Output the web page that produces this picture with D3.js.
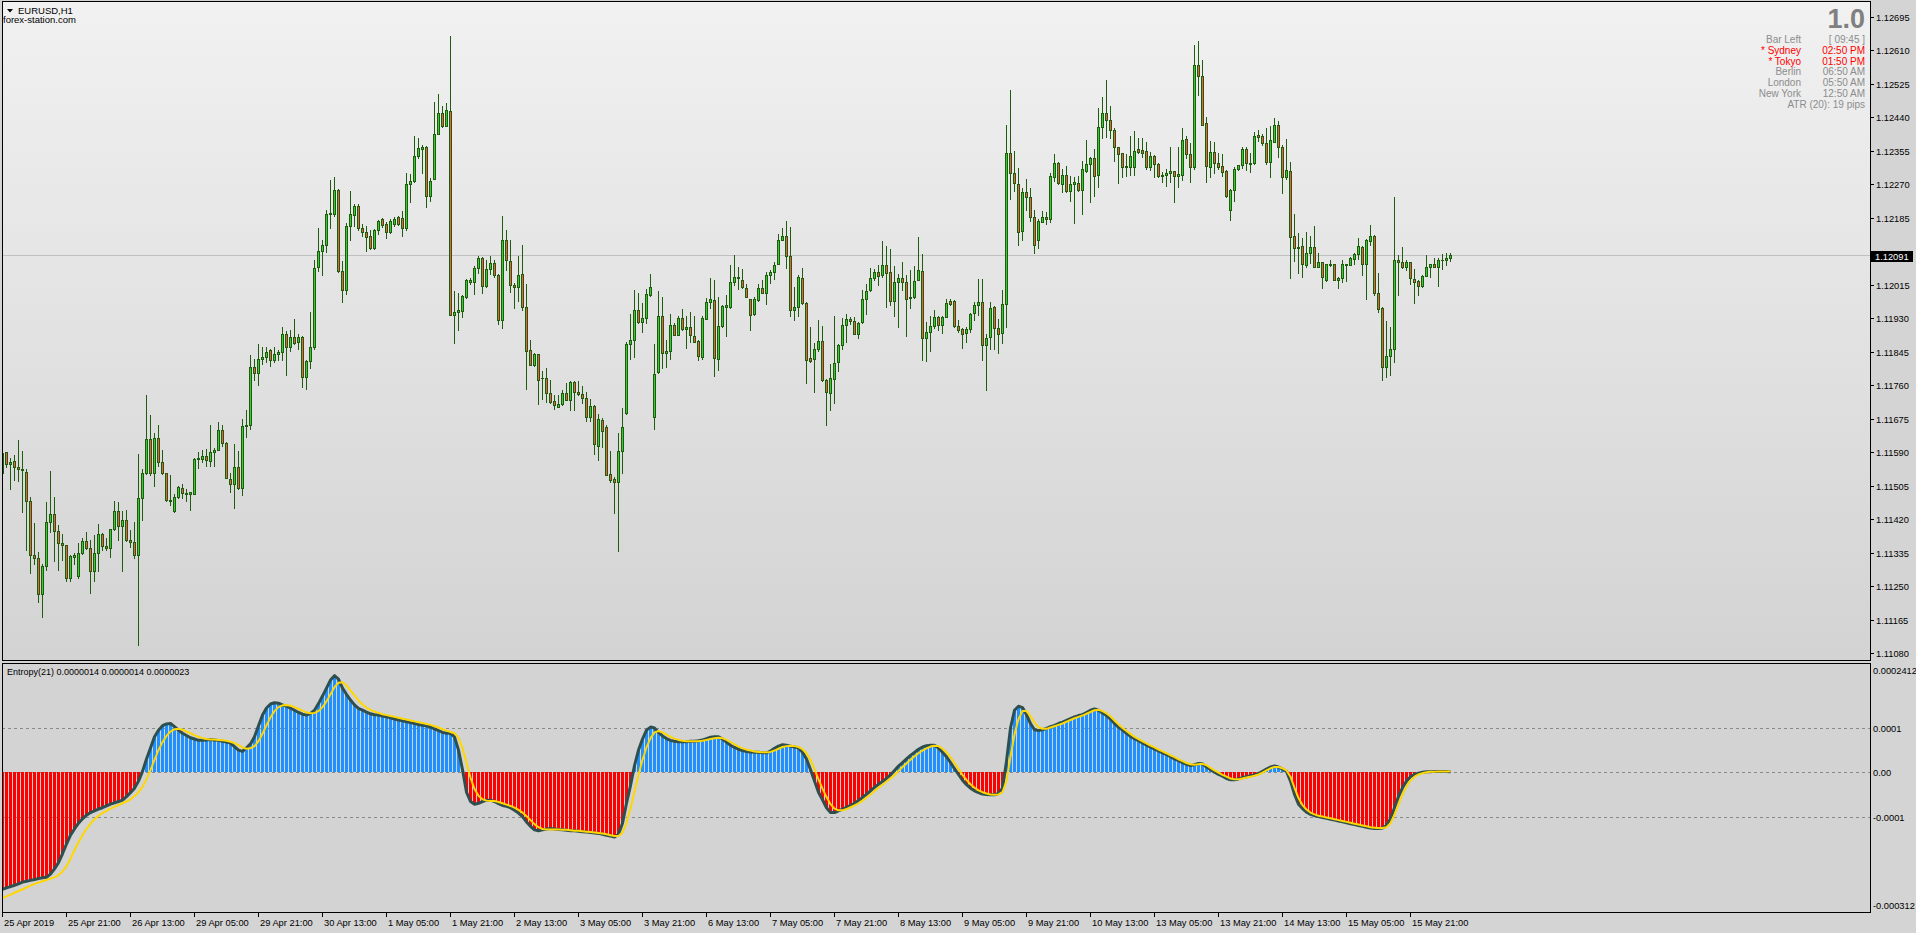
<!DOCTYPE html>
<html>
<head>
<meta charset="utf-8">
<script src="https://cdn.jsdelivr.net/npm/d3@7"></script>
<style>
html, body { margin: 0; padding: 0; background: #d4d4d4; overflow: hidden; }
svg { display: block; font-family: "Liberation Sans", Arial, sans-serif; }
</style>
</head>
<body>
<svg id="chart" width="1916" height="933"></svg>
<script>
// EURUSD H1, 25 Apr 2019 05:00 .. 16 May 2019 07:00 (363 bars)
var open = [
1.11538,1.11590,1.11560,1.11568,1.11553,1.11547,1.11540,1.11467,1.11330,1.11322,
1.11229,1.11300,1.11412,1.11432,1.11389,1.11359,1.11353,1.11271,1.11324,1.11276,
1.11333,1.11365,1.11347,1.11287,1.11333,1.11382,1.11352,1.11346,1.11394,1.11440,
1.11402,1.11417,1.11367,1.11363,1.11329,1.11474,1.11536,1.11623,1.11536,1.11625,
1.11564,1.11536,1.11469,1.11440,1.11477,1.11500,1.11487,1.11484,1.11485,1.11572,
1.11572,1.11580,1.11568,1.11590,1.11595,1.11645,1.11613,1.11523,1.11508,1.11552,
1.11500,1.11656,1.11658,1.11807,1.11791,1.11826,1.11831,1.11849,1.11824,1.11839,
1.11844,1.11891,1.11857,1.11882,1.11869,1.11882,1.11782,1.11821,1.11856,1.12059,
1.12100,1.12115,1.12195,1.12195,1.12255,1.12050,1.12002,1.12164,1.12193,1.12215,
1.12160,1.12148,1.12140,1.12108,1.12155,1.12181,1.12170,1.12148,1.12170,1.12186,
1.12185,1.12160,1.12271,1.12278,1.12341,1.12361,1.12365,1.12240,1.12284,1.12398,
1.12450,1.12418,1.12456,1.11939,1.11945,1.11948,1.11985,1.12022,1.12022,1.12058,
1.12082,1.12011,1.12056,1.12071,1.12041,1.11925,1.12130,1.12076,1.12015,1.12009,
1.12043,1.11959,1.11850,1.11812,1.11838,1.11779,1.11778,1.11741,1.11719,1.11704,
1.11713,1.11741,1.11723,1.11768,1.11744,1.11738,1.11728,1.11679,1.11708,1.11605,
1.11672,1.11654,1.11535,1.11521,1.11514,1.11593,1.11690,1.11865,1.11876,1.11952,
1.11920,1.11931,1.11990,1.11679,1.11793,1.11937,1.11843,1.11847,1.11914,1.11888,
1.11931,1.11902,1.11909,1.11886,1.11871,1.11832,1.11929,1.11972,1.11977,1.11826,
1.11911,1.11959,1.11959,1.12023,1.12036,1.12028,1.12008,1.11978,1.11940,1.11977,
1.12008,1.11995,1.12039,1.12047,1.12069,1.12130,1.12140,1.12087,1.11952,1.11959,
1.12033,1.11970,1.11829,1.11827,1.11852,1.11873,1.11774,1.11741,1.11777,1.11819,
1.11861,1.11912,1.11929,1.11923,1.11889,1.11920,1.11980,1.12001,1.12032,1.12048,
1.12039,1.12065,1.12048,1.11974,1.12022,1.12032,1.12023,1.11985,1.11984,1.12027,
1.12051,1.11880,1.11896,1.11911,1.11933,1.11914,1.11933,1.11975,1.11975,1.11911,
1.11903,1.11893,1.11904,1.11944,1.11963,1.11972,1.11863,1.11883,1.11958,1.11906,
1.11893,1.11967,1.12349,1.12298,1.12272,1.12151,1.12250,1.12239,1.12186,1.12130,
1.12175,1.12186,1.12183,1.12289,1.12323,1.12272,1.12293,1.12254,1.12270,1.12274,
1.12255,1.12305,1.12321,1.12336,1.12294,1.12416,1.12450,1.12433,1.12408,1.12364,
1.12349,1.12313,1.12315,1.12315,1.12361,1.12357,1.12354,1.12313,1.12342,1.12321,
1.12292,1.12295,1.12298,1.12303,1.12292,1.12294,1.12384,1.12346,1.12313,1.12573,
1.12546,1.12425,1.12315,1.12351,1.12323,1.12316,1.12304,1.12206,1.12255,1.12308,
1.12319,1.12360,1.12325,1.12323,1.12396,1.12393,1.12375,1.12327,1.12378,1.12422,
1.12364,1.12289,1.12304,1.12139,1.12111,1.12113,1.12065,1.12095,1.12111,1.12061,
1.12072,1.12028,1.12067,1.12067,1.12028,1.12031,1.12067,1.12066,1.12081,1.12092,
1.12112,1.12067,1.12127,1.12139,1.11995,1.11956,1.11805,1.11834,1.11853,1.12079,
1.12072,1.12059,1.12072,1.12029,1.12024,1.12012,1.12038,1.12059,1.12067,1.12061,
1.12079,1.12077,1.12082];

var high = [
1.11603,1.11590,1.11576,1.11582,1.11621,1.11593,1.11548,1.11477,1.11409,1.11337,
1.11305,1.11463,1.11543,1.11475,1.11405,1.11382,1.11355,1.11330,1.11335,1.11359,
1.11371,1.11386,1.11367,1.11380,1.11408,1.11385,1.11371,1.11395,1.11467,1.11463,
1.11441,1.11443,1.11392,1.11412,1.11585,1.11546,1.11735,1.11685,1.11638,1.11658,
1.11596,1.11537,1.11532,1.11485,1.11505,1.11510,1.11497,1.11489,1.11576,1.11591,
1.11595,1.11598,1.11658,1.11601,1.11666,1.11658,1.11616,1.11536,1.11611,1.11592,
1.11673,1.11698,1.11837,1.11827,1.11864,1.11856,1.11856,1.11852,1.11856,1.11849,
1.11908,1.11897,1.11899,1.11928,1.11889,1.11884,1.11824,1.11946,1.12077,1.12160,
1.12130,1.12205,1.12280,1.12289,1.12257,1.12075,1.12171,1.12253,1.12220,1.12220,
1.12170,1.12165,1.12155,1.12157,1.12180,1.12185,1.12175,1.12182,1.12187,1.12190,
1.12202,1.12299,1.12296,1.12394,1.12388,1.12371,1.12368,1.12285,1.12479,1.12499,
1.12469,1.12476,1.12647,1.11999,1.11994,1.11989,1.12029,1.12032,1.12062,1.12088,
1.12085,1.12079,1.12087,1.12077,1.12043,1.12189,1.12155,1.12130,1.12020,1.12089,
1.12115,1.12016,1.11876,1.11842,1.11839,1.11795,1.11804,1.11774,1.11736,1.11734,
1.11748,1.11765,1.11770,1.11771,1.11771,1.11757,1.11744,1.11726,1.11710,1.11688,
1.11676,1.11658,1.11593,1.11528,1.11639,1.11703,1.11870,1.11942,1.12003,1.11994,
1.11970,1.12005,1.12043,1.11865,1.11998,1.11984,1.11874,1.11942,1.11917,1.11935,
1.11953,1.11937,1.11946,1.11935,1.11874,1.11937,1.11982,1.12031,1.12026,1.11984,
1.11963,1.11990,1.12064,1.12090,1.12060,1.12056,1.12018,1.11980,1.11984,1.12018,
1.12028,1.12047,1.12052,1.12073,1.12143,1.12159,1.12176,1.12161,1.12009,1.12040,
1.12058,1.11971,1.11909,1.11867,1.11925,1.11911,1.11776,1.11815,1.11935,1.11865,
1.11931,1.11942,1.11933,1.11933,1.11921,1.12001,1.12018,1.12058,1.12056,1.12064,
1.12125,1.12114,1.12107,1.12062,1.12043,1.12072,1.12039,1.12052,1.12062,1.12136,
1.12092,1.11920,1.11935,1.11950,1.11936,1.11937,1.11978,1.11980,1.11976,1.11925,
1.11905,1.11908,1.11944,1.11972,1.12029,1.12029,1.11891,1.11972,1.11961,1.11927,
1.12001,1.12422,1.12510,1.12355,1.12311,1.12260,1.12283,1.12260,1.12206,1.12183,
1.12202,1.12200,1.12298,1.12346,1.12327,1.12308,1.12316,1.12291,1.12289,1.12291,
1.12329,1.12382,1.12340,1.12361,1.12465,1.12493,1.12535,1.12469,1.12412,1.12366,
1.12350,1.12347,1.12394,1.12405,1.12387,1.12387,1.12378,1.12353,1.12344,1.12323,
1.12302,1.12308,1.12366,1.12305,1.12366,1.12412,1.12393,1.12374,1.12624,1.12634,
1.12586,1.12440,1.12380,1.12378,1.12349,1.12347,1.12306,1.12257,1.12313,1.12319,
1.12366,1.12364,1.12349,1.12404,1.12408,1.12399,1.12412,1.12418,1.12438,1.12432,
1.12371,1.12385,1.12326,1.12196,1.12147,1.12133,1.12148,1.12139,1.12164,1.12095,
1.12073,1.12069,1.12079,1.12069,1.12035,1.12078,1.12068,1.12086,1.12095,1.12133,
1.12114,1.12131,1.12166,1.12141,1.12044,1.11959,1.11923,1.11908,1.12237,1.12090,
1.12110,1.12078,1.12074,1.12056,1.12028,1.12039,1.12090,1.12069,1.12083,1.12083,
1.12093,1.12095,1.12095];

var low = [
1.11497,1.11553,1.11497,1.11520,1.11517,1.11439,1.11342,1.11284,1.11307,1.11210,
1.11172,1.11290,1.11387,1.11314,1.11292,1.11317,1.11264,1.11264,1.11307,1.11271,
1.11332,1.11345,1.11233,1.11264,1.11287,1.11341,1.11341,1.11325,1.11392,1.11367,
1.11287,1.11365,1.11349,1.11320,1.11101,1.11417,1.11535,1.11532,1.11504,1.11556,
1.11535,1.11465,1.11457,1.11439,1.11474,1.11474,1.11467,1.11444,1.11484,1.11551,
1.11565,1.11556,1.11555,1.11555,1.11595,1.11605,1.11524,1.11490,1.11447,1.11497,
1.11482,1.11628,1.11648,1.11773,1.11761,1.11814,1.11819,1.11809,1.11819,1.11824,
1.11824,1.11787,1.11846,1.11864,1.11851,1.11756,1.11750,1.11804,1.11851,1.12050,
1.12040,1.12097,1.12158,1.12190,1.12048,1.11972,1.11991,1.12130,1.12165,1.12155,
1.12140,1.12100,1.12105,1.12105,1.12145,1.12163,1.12135,1.12147,1.12165,1.12167,
1.12138,1.12155,1.12225,1.12275,1.12336,1.12298,1.12213,1.12228,1.12284,1.12398,
1.12416,1.12418,1.11939,1.11867,1.11901,1.11932,1.11981,1.12017,1.11991,1.12045,
1.11994,1.12009,1.12043,1.12035,1.11915,1.11906,1.12052,1.11997,1.11957,1.11975,
1.11952,1.11750,1.11811,1.11810,1.11713,1.11725,1.11717,1.11716,1.11700,1.11704,
1.11710,1.11723,1.11696,1.11696,1.11734,1.11715,1.11668,1.11668,1.11586,1.11571,
1.11603,1.11532,1.11514,1.11435,1.11340,1.11537,1.11686,1.11827,1.11831,1.11918,
1.11895,1.11918,1.11986,1.11649,1.11791,1.11804,1.11806,1.11826,1.11887,1.11887,
1.11901,1.11854,1.11870,1.11870,1.11825,1.11827,1.11928,1.11956,1.11783,1.11798,
1.11909,1.11885,1.11957,1.12014,1.12004,1.12007,1.11984,1.11899,1.11939,1.11975,
1.11995,1.11965,1.12020,1.12030,1.12067,1.12128,1.12058,1.11935,1.11926,1.11935,
1.11967,1.11765,1.11819,1.11743,1.11848,1.11770,1.11660,1.11696,1.11715,1.11796,
1.11853,1.11870,1.11916,1.11889,1.11880,1.11919,1.11942,1.11999,1.12028,1.12014,
1.12036,1.11959,1.11963,1.11935,1.11908,1.12001,1.11885,1.11957,1.11981,1.12026,
1.11823,1.11821,1.11848,1.11905,1.11899,1.11892,1.11932,1.11963,1.11908,1.11895,
1.11854,1.11870,1.11895,1.11925,1.11938,1.11823,1.11749,1.11853,1.11853,1.11842,
1.11866,1.11908,1.12234,1.12254,1.12116,1.12128,1.12205,1.12178,1.12096,1.12109,
1.12174,1.12169,1.12175,1.12279,1.12271,1.12251,1.12251,1.12228,1.12172,1.12254,
1.12196,1.12302,1.12226,1.12241,1.12264,1.12389,1.12391,1.12387,1.12330,1.12274,
1.12289,1.12292,1.12294,1.12294,1.12350,1.12340,1.12308,1.12306,1.12289,1.12289,
1.12277,1.12266,1.12277,1.12226,1.12264,1.12281,1.12336,1.12277,1.12310,1.12497,
1.12421,1.12277,1.12289,1.12299,1.12310,1.12291,1.12238,1.12179,1.12228,1.12306,
1.12312,1.12306,1.12302,1.12322,1.12381,1.12370,1.12321,1.12289,1.12377,1.12340,
1.12249,1.12283,1.12033,1.12076,1.12044,1.12035,1.12061,1.12071,1.12060,1.12059,
1.12007,1.12025,1.12063,1.12027,1.12006,1.12023,1.12025,1.12065,1.12069,1.12080,
1.12041,1.11978,1.12117,1.11989,1.11945,1.11774,1.11781,1.11787,1.11818,1.11989,
1.12058,1.12052,1.12016,1.11969,1.11990,1.12010,1.12037,1.12035,1.12059,1.12012,
1.12054,1.12065,1.12076];

var close = [
1.11588,1.11560,1.11564,1.11552,1.11547,1.11545,1.11467,1.11330,1.11320,1.11229,
1.11302,1.11412,1.11432,1.11389,1.11359,1.11353,1.11271,1.11326,1.11330,1.11333,
1.11365,1.11347,1.11287,1.11333,1.11383,1.11352,1.11346,1.11394,1.11440,1.11402,
1.11417,1.11367,1.11363,1.11329,1.11474,1.11536,1.11623,1.11536,1.11625,1.11564,
1.11536,1.11469,1.11467,1.11477,1.11502,1.11487,1.11484,1.11488,1.11572,1.11576,
1.11580,1.11570,1.11590,1.11595,1.11645,1.11613,1.11525,1.11508,1.11552,1.11499,
1.11656,1.11658,1.11807,1.11791,1.11826,1.11831,1.11844,1.11824,1.11839,1.11844,
1.11891,1.11857,1.11882,1.11867,1.11882,1.11782,1.11821,1.11856,1.12057,1.12100,
1.12115,1.12195,1.12197,1.12255,1.12050,1.12002,1.12164,1.12195,1.12215,1.12160,
1.12148,1.12136,1.12108,1.12155,1.12178,1.12168,1.12148,1.12177,1.12183,1.12170,
1.12160,1.12271,1.12278,1.12341,1.12363,1.12365,1.12240,1.12278,1.12398,1.12450,
1.12418,1.12458,1.11939,1.11947,1.11950,1.11986,1.12028,1.12028,1.12058,1.12082,
1.12011,1.12056,1.12071,1.12041,1.11926,1.12130,1.12079,1.12015,1.12009,1.12041,
1.11959,1.11847,1.11812,1.11840,1.11774,1.11778,1.11741,1.11717,1.11710,1.11713,
1.11741,1.11723,1.11768,1.11743,1.11737,1.11728,1.11679,1.11707,1.11611,1.11674,
1.11644,1.11533,1.11520,1.11514,1.11593,1.11654,1.11865,1.11876,1.11952,1.11920,
1.11931,1.11992,1.12009,1.11789,1.11937,1.11843,1.11848,1.11914,1.11888,1.11931,
1.11903,1.11909,1.11888,1.11870,1.11834,1.11931,1.11972,1.11980,1.11830,1.11911,
1.11962,1.11963,1.12023,1.12036,1.12031,1.12009,1.11984,1.11939,1.11978,1.12008,
1.11995,1.12041,1.12048,1.12066,1.12130,1.12140,1.12087,1.11952,1.11959,1.12036,
1.11969,1.11825,1.11822,1.11852,1.11873,1.11772,1.11744,1.11778,1.11817,1.11861,
1.11912,1.11929,1.11923,1.11891,1.11919,1.11980,1.11999,1.12032,1.12048,1.12038,
1.12065,1.12046,1.11974,1.12022,1.12032,1.12021,1.11980,1.11982,1.12025,1.12053,
1.11881,1.11896,1.11911,1.11932,1.11914,1.11934,1.11970,1.11967,1.11911,1.11901,
1.11891,1.11904,1.11942,1.11963,1.11972,1.11862,1.11881,1.11957,1.11906,1.11891,
1.11967,1.12349,1.12298,1.12274,1.12150,1.12250,1.12238,1.12188,1.12117,1.12177,
1.12186,1.12181,1.12291,1.12323,1.12274,1.12293,1.12254,1.12271,1.12275,1.12255,
1.12308,1.12321,1.12338,1.12292,1.12416,1.12450,1.12433,1.12408,1.12364,1.12346,
1.12313,1.12316,1.12342,1.12354,1.12351,1.12350,1.12313,1.12342,1.12321,1.12292,
1.12295,1.12299,1.12303,1.12292,1.12296,1.12382,1.12346,1.12315,1.12573,1.12546,
1.12422,1.12317,1.12351,1.12323,1.12313,1.12302,1.12241,1.12255,1.12309,1.12319,
1.12360,1.12323,1.12322,1.12393,1.12391,1.12376,1.12327,1.12382,1.12422,1.12364,
1.12289,1.12306,1.12137,1.12109,1.12109,1.12067,1.12095,1.12111,1.12061,1.12072,
1.12035,1.12067,1.12065,1.12028,1.12031,1.12067,1.12066,1.12082,1.12092,1.12114,
1.12067,1.12128,1.12139,1.11993,1.11953,1.11805,1.11834,1.11853,1.12078,1.12072,
1.12059,1.12072,1.12031,1.12023,1.12012,1.12038,1.12059,1.12067,1.12061,1.12079,
1.12078,1.12082,1.12091];

// Entropy(21) buffers, in units of 0.0001
var entropy = [
-2.64,-2.61,-2.58,-2.55,-2.52,-2.48,-2.46,-2.44,-2.42,-2.40,
-2.38,-2.37,-2.30,-2.18,-2.04,-1.84,-1.62,-1.42,-1.28,-1.15,
-1.05,-0.97,-0.91,-0.87,-0.83,-0.80,-0.76,-0.72,-0.69,-0.66,
-0.63,-0.55,-0.46,-0.36,-0.20,0.02,0.30,0.55,0.80,0.95,
1.05,1.09,1.10,1.03,0.95,0.88,0.83,0.78,0.75,0.72,
0.72,0.73,0.74,0.73,0.72,0.70,0.68,0.66,0.58,0.50,
0.47,0.55,0.64,0.80,1.05,1.29,1.45,1.54,1.57,1.56,
1.52,1.49,1.45,1.40,1.35,1.31,1.29,1.33,1.40,1.55,
1.72,1.90,2.08,2.18,2.10,1.90,1.76,1.63,1.52,1.44,
1.40,1.36,1.32,1.30,1.29,1.27,1.25,1.23,1.20,1.18,
1.16,1.14,1.12,1.10,1.08,1.06,1.05,1.02,0.98,0.94,
0.90,0.88,0.88,0.80,0.50,0.06,-0.45,-0.66,-0.72,-0.70,
-0.66,-0.63,-0.63,-0.66,-0.71,-0.75,-0.77,-0.80,-0.86,-0.92,
-1.00,-1.12,-1.22,-1.30,-1.32,-1.30,-1.28,-1.27,-1.28,-1.29,
-1.30,-1.31,-1.32,-1.32,-1.33,-1.34,-1.35,-1.36,-1.37,-1.38,
-1.40,-1.42,-1.44,-1.46,-1.40,-1.15,-0.70,-0.30,0.15,0.50,
0.75,0.95,1.02,1.00,0.90,0.82,0.76,0.72,0.70,0.69,
0.69,0.69,0.70,0.70,0.71,0.73,0.76,0.79,0.80,0.80,
0.75,0.68,0.61,0.56,0.52,0.49,0.47,0.46,0.45,0.45,
0.44,0.44,0.48,0.54,0.59,0.62,0.61,0.59,0.57,0.55,
0.45,0.30,0.06,-0.20,-0.45,-0.62,-0.80,-0.91,-0.91,-0.87,
-0.83,-0.79,-0.75,-0.70,-0.64,-0.57,-0.50,-0.42,-0.34,-0.27,
-0.21,-0.14,-0.06,0.04,0.14,0.22,0.30,0.38,0.45,0.52,
0.57,0.60,0.61,0.61,0.55,0.45,0.35,0.22,0.08,-0.05,
-0.18,-0.28,-0.36,-0.42,-0.46,-0.49,-0.50,-0.51,-0.51,-0.48,
-0.36,0.25,1.00,1.40,1.49,1.46,1.30,1.10,0.96,0.94,
0.96,0.99,1.03,1.06,1.10,1.13,1.17,1.21,1.25,1.28,
1.30,1.35,1.40,1.43,1.40,1.34,1.28,1.20,1.10,1.02,
0.95,0.88,0.81,0.76,0.71,0.66,0.61,0.57,0.52,0.48,
0.44,0.40,0.35,0.30,0.26,0.22,0.18,0.15,0.17,0.20,
0.19,0.12,0.06,0.00,-0.05,-0.09,-0.14,-0.17,-0.17,-0.15,
-0.12,-0.10,-0.08,-0.06,-0.03,0.02,0.07,0.12,0.14,0.12,
0.07,0.02,-0.20,-0.50,-0.72,-0.82,-0.90,-0.95,-0.98,-1.00,
-1.02,-1.04,-1.06,-1.08,-1.10,-1.12,-1.14,-1.16,-1.18,-1.20,
-1.22,-1.24,-1.26,-1.27,-1.27,-1.26,-1.20,-1.05,-0.80,-0.55,
-0.35,-0.20,-0.10,-0.05,-0.02,0.00,0.01,0.01,0.02,0.02,
0.02,0.02,0.014];

var signal = [
-2.84,-2.80,-2.76,-2.72,-2.68,-2.64,-2.60,-2.56,-2.52,-2.49,
-2.46,-2.43,-2.40,-2.37,-2.32,-2.24,-2.12,-1.95,-1.76,-1.58,
-1.42,-1.28,-1.16,-1.06,-0.98,-0.92,-0.87,-0.82,-0.78,-0.74,
-0.70,-0.66,-0.61,-0.54,-0.45,-0.33,-0.16,0.05,0.28,0.50,
0.68,0.82,0.92,0.97,0.98,0.96,0.92,0.88,0.84,0.80,
0.77,0.75,0.74,0.74,0.73,0.72,0.71,0.69,0.66,0.61,
0.56,0.53,0.54,0.59,0.70,0.87,1.06,1.24,1.38,1.47,
1.51,1.52,1.50,1.47,1.43,1.39,1.35,1.33,1.34,1.38,
1.47,1.60,1.76,1.92,2.02,2.03,1.96,1.85,1.73,1.62,
1.53,1.46,1.41,1.37,1.34,1.31,1.29,1.27,1.25,1.23,
1.21,1.19,1.17,1.15,1.13,1.11,1.09,1.07,1.04,1.01,
0.97,0.94,0.91,0.88,0.78,0.55,0.22,-0.12,-0.38,-0.53,
-0.61,-0.64,-0.65,-0.65,-0.67,-0.70,-0.73,-0.76,-0.80,-0.85,
-0.91,-0.99,-1.08,-1.17,-1.24,-1.28,-1.29,-1.29,-1.29,-1.29,
-1.30,-1.30,-1.31,-1.32,-1.32,-1.33,-1.34,-1.35,-1.36,-1.37,
-1.38,-1.40,-1.42,-1.44,-1.44,-1.36,-1.14,-0.82,-0.44,-0.06,
0.28,0.56,0.77,0.90,0.93,0.90,0.85,0.80,0.76,0.73,
0.71,0.70,0.70,0.70,0.70,0.71,0.73,0.75,0.77,0.78,
0.77,0.73,0.68,0.63,0.58,0.54,0.51,0.49,0.47,0.46,
0.45,0.45,0.46,0.49,0.53,0.57,0.59,0.60,0.59,0.57,
0.52,0.43,0.28,0.07,-0.16,-0.37,-0.56,-0.72,-0.82,-0.86,
-0.86,-0.83,-0.79,-0.75,-0.70,-0.64,-0.57,-0.50,-0.42,-0.35,
-0.28,-0.21,-0.14,-0.06,0.03,0.12,0.20,0.28,0.36,0.43,
0.49,0.54,0.58,0.60,0.59,0.53,0.45,0.34,0.21,0.07,
-0.06,-0.17,-0.27,-0.35,-0.41,-0.45,-0.48,-0.50,-0.51,-0.50,
-0.45,-0.20,0.35,0.85,1.20,1.38,1.38,1.26,1.12,1.02,
0.98,0.98,1.01,1.04,1.07,1.10,1.14,1.18,1.22,1.25,
1.28,1.32,1.36,1.40,1.41,1.38,1.33,1.26,1.17,1.08,
1.00,0.93,0.86,0.80,0.75,0.70,0.65,0.60,0.56,0.51,
0.47,0.43,0.38,0.34,0.29,0.25,0.21,0.18,0.17,0.18,
0.19,0.16,0.10,0.04,-0.01,-0.06,-0.10,-0.14,-0.16,-0.16,
-0.14,-0.12,-0.10,-0.08,-0.05,-0.01,0.04,0.09,0.12,0.12,
0.09,0.04,-0.10,-0.35,-0.58,-0.74,-0.84,-0.91,-0.95,-0.98,
-1.00,-1.02,-1.04,-1.06,-1.08,-1.10,-1.12,-1.14,-1.16,-1.18,
-1.20,-1.22,-1.24,-1.25,-1.26,-1.26,-1.24,-1.15,-0.96,-0.72,
-0.50,-0.32,-0.19,-0.10,-0.05,-0.02,0.00,0.01,0.01,0.02,
0.02,0.02,0.023];

var timeLabels = ["25 Apr 2019","25 Apr 21:00","26 Apr 13:00","29 Apr 05:00","29 Apr 21:00",
  "30 Apr 13:00","1 May 05:00","1 May 21:00","2 May 13:00","3 May 05:00","3 May 21:00",
  "6 May 13:00","7 May 05:00","7 May 21:00","8 May 13:00","9 May 05:00","9 May 21:00",
  "10 May 13:00","13 May 05:00","13 May 21:00","14 May 13:00","15 May 05:00","15 May 21:00"];

var priceTicks = [1.12695,1.12610,1.12525,1.12440,1.12355,1.12270,1.12185,1.12100,1.12015,1.11930,
  1.11845,1.11760,1.11675,1.11590,1.11505,1.11420,1.11335,1.11250,1.11165,1.11080];

var levelTicks = [0.0001, 0, -0.0001];
var levelLabels = ["0.0001", "0.00", "-0.0001"];
var entropyRange = [-0.000312, 0.0002412];
var entropyRangeLabels = ["-0.000312", "0.0002412"];
var bid = 1.12091;
var unit = 0.0001;

var infoNames = ["Bar Left", "* Sydney", "* Tokyo", "Berlin", "London", "New York"];
var infoTimes = ["[ 09:45 ]", "02:50 PM", "01:50 PM", "06:50 AM", "05:50 AM", "12:50 AM"];
var infoOpen = [false, true, true, false, false, false];

var width = 1916, height = 933;
var left = 2, axisX = 1870;
var mainTop = 2, mainBottom = 660, subTop = 663, subBottom = 912;

var x = d3.scaleLinear().domain([0, 362]).range([2, 1450]);
var y = d3.scaleLinear().domain([1.11080, 1.12695]).range([653, 17]);
var ySub = d3.scaleLinear().domain(entropyRange).range([910.5, 665.4]);

var svg = d3.select("#chart");
var defs = svg.append("defs");

var grad = defs.append("linearGradient")
    .attr("id", "mainBg").attr("x1", 0).attr("y1", 0).attr("x2", 0).attr("y2", 1);
grad.append("stop").attr("offset", "0%").attr("stop-color", "#f1f1f1");
grad.append("stop").attr("offset", "100%").attr("stop-color", "#d3d3d3");

defs.append("clipPath").attr("id", "clipMain")
  .append("rect").attr("x", left + 1).attr("y", mainTop).attr("width", axisX - left - 1).attr("height", mainBottom - mainTop);
defs.append("clipPath").attr("id", "clipSub")
  .append("rect").attr("x", left + 1).attr("y", subTop + 1).attr("width", axisX - left - 1).attr("height", subBottom - subTop - 1);

svg.append("rect").attr("width", width).attr("height", height).attr("fill", "#d4d4d4");
svg.append("rect").attr("x", left).attr("y", mainTop).attr("width", axisX - left).attr("height", mainBottom - mainTop)
    .attr("fill", "url(#mainBg)");
svg.append("rect").attr("x", left).attr("y", subTop).attr("width", axisX - left).attr("height", subBottom - subTop)
    .attr("fill", "#d3d3d3");

// ---------- main window ----------
var main = svg.append("g").attr("clip-path", "url(#clipMain)");

main.append("line")
    .attr("x1", left).attr("x2", axisX)
    .attr("y1", Math.round(y(bid)) + 0.5).attr("y2", Math.round(y(bid)) + 0.5)
    .attr("stroke", "#c0c0c0").attr("stroke-width", 1);

var bars = d3.range(close.length);
var candle = main.selectAll("g.candle").data(bars).enter().append("g")
    .attr("class", "candle")
    .attr("shape-rendering", "crispEdges");

candle.append("line")
    .attr("x1", function(i) { return Math.round(x(i)) + 0.5; })
    .attr("x2", function(i) { return Math.round(x(i)) + 0.5; })
    .attr("y1", function(i) { return Math.round(y(high[i])); })
    .attr("y2", function(i) { return Math.round(y(low[i])) + 1; })
    .attr("stroke", "#1f5c0d").attr("stroke-width", 1);

candle.each(function(i) {
  var g = d3.select(this);
  var cx = Math.round(x(i));
  var top = Math.round(y(Math.max(open[i], close[i])));
  var bot = Math.round(y(Math.min(open[i], close[i])));
  if (bot - top < 1) {
    g.append("line")
        .attr("x1", cx - 1).attr("x2", cx + 2)
        .attr("y1", top + 0.5).attr("y2", top + 0.5)
        .attr("stroke", "#1f5c0d").attr("stroke-width", 1);
  } else {
    g.append("rect")
        .attr("x", cx - 0.5).attr("y", top + 0.5)
        .attr("width", 2).attr("height", bot - top)
        .attr("fill", close[i] >= open[i] ? "#32cd32" : "#e8603c")
        .attr("stroke", "#1f5c0d").attr("stroke-width", 1);
  }
});

// ---------- indicator window ----------
var sub = svg.append("g").attr("clip-path", "url(#clipSub)");

sub.selectAll("line.level").data(levelTicks).enter().append("line")
    .attr("class", "level")
    .attr("x1", left).attr("x2", axisX)
    .attr("y1", function(d) { return Math.round(ySub(d)) + 0.5; })
    .attr("y2", function(d) { return Math.round(ySub(d)) + 0.5; })
    .attr("stroke", "#8a8a8a").attr("stroke-width", 1).attr("stroke-dasharray", "3,3");

var zeroY = Math.round(ySub(0));
sub.selectAll("rect.hist").data(bars).enter().append("rect")
    .attr("class", "hist")
    .attr("shape-rendering", "crispEdges")
    .attr("x", function(i) { return Math.round(x(i)) - 1; })
    .attr("width", 3)
    .attr("y", function(i) { return Math.min(zeroY, Math.round(ySub(entropy[i] * unit))); })
    .attr("height", function(i) { return Math.abs(Math.round(ySub(entropy[i] * unit)) - zeroY); })
    .attr("fill", function(i) { return entropy[i] >= 0 ? "#1e90ff" : "#ff0000"; });

var entropyLine = d3.line()
    .x(function(i) { return x(i) + 0.5; })
    .y(function(i) { return ySub(entropy[i] * unit); });
var signalLine = d3.line()
    .x(function(i) { return x(i) + 0.5; })
    .y(function(i) { return ySub(signal[i] * unit); });

sub.append("path").attr("d", entropyLine(bars))
    .attr("fill", "none").attr("stroke", "#2f4f4f").attr("stroke-width", 3).attr("stroke-linejoin", "round");
sub.append("path").attr("d", signalLine(bars))
    .attr("fill", "none").attr("stroke", "#ffd700").attr("stroke-width", 2).attr("stroke-linejoin", "round");

// ---------- frames ----------
var frame = svg.append("g").attr("stroke", "#000").attr("stroke-width", 1).attr("fill", "none")
    .attr("shape-rendering", "crispEdges");
frame.append("rect").attr("x", left + 0.5).attr("y", 1.5).attr("width", axisX - left).attr("height", mainBottom - 1);
frame.append("rect").attr("x", left + 0.5).attr("y", subTop + 0.5).attr("width", axisX - left).attr("height", subBottom - subTop);

// ---------- price axis ----------
var axis = svg.append("g").attr("font-size", "9.3px").attr("fill", "#000");

axis.selectAll("line.ptick").data(priceTicks).enter().append("line")
    .attr("x1", axisX + 1).attr("x2", axisX + 4)
    .attr("y1", function(d) { return Math.round(y(d)) + 0.5; })
    .attr("y2", function(d) { return Math.round(y(d)) + 0.5; })
    .attr("stroke", "#000").attr("shape-rendering", "crispEdges");
// the tick hidden under the bid marker is left out of the labels
axis.selectAll("text.ptick").data(priceTicks.filter(function(d) { return Math.abs(y(d) - y(bid)) > 8; }))
  .enter().append("text")
    .attr("x", axisX + 6)
    .attr("y", function(d) { return Math.round(y(d)) + 4; })
    .text(function(d) { return d.toFixed(5); });

svg.append("rect").attr("x", axisX + 1).attr("y", Math.round(y(bid)) - 4).attr("width", 42).attr("height", 11)
    .attr("fill", "#000");
svg.append("text").attr("x", axisX + 5).attr("y", Math.round(y(bid)) + 5)
    .attr("font-size", "9.3px").attr("fill", "#fff").text(bid.toFixed(5));

// indicator axis labels
axis.selectAll("text.level").data(levelTicks).enter().append("text")
    .attr("x", axisX + 3)
    .attr("y", function(d) { return Math.round(ySub(d)) + 4; })
    .text(function(d, k) { return levelLabels[k]; });
axis.append("text").attr("x", axisX + 3).attr("y", 674).text(entropyRangeLabels[1]);
axis.append("text").attr("x", axisX + 3).attr("y", 909).text(entropyRangeLabels[0]);

// ---------- time axis ----------
var labelBars = d3.range(0, close.length, 16).slice(0, timeLabels.length);
axis.selectAll("line.ttick").data(labelBars).enter().append("line")
    .attr("x1", function(i) { return Math.round(x(i)) + 0.5; })
    .attr("x2", function(i) { return Math.round(x(i)) + 0.5; })
    .attr("y1", subBottom + 1).attr("y2", subBottom + 5)
    .attr("stroke", "#000").attr("shape-rendering", "crispEdges");
axis.selectAll("text.ttick").data(labelBars).enter().append("text")
    .attr("x", function(i) { return Math.round(x(i)) + 2; })
    .attr("y", 926)
    .text(function(i, k) { return timeLabels[k]; });

// ---------- captions ----------
svg.append("path").attr("d", "M7,9 L13,9 L10,12.5 Z").attr("fill", "#000");
svg.append("text").attr("x", 18).attr("y", 14).attr("font-size", "9.5px").text("EURUSD,H1");
svg.append("text").attr("x", 3).attr("y", 23).attr("font-size", "9.5px").text("forex-station.com");

svg.append("text").attr("x", 7).attr("y", 675).attr("font-size", "9px")
    .text("Entropy(21) " + (entropy[362] * unit).toFixed(7) + " " + (entropy[362] * unit).toFixed(7) + " " + (signal[362] * unit).toFixed(7));

// ---------- info panel ----------
var info = svg.append("g").attr("font-size", "10px").attr("text-anchor", "end");
info.append("text").attr("x", 1865).attr("y", 28).attr("font-size", "27px").attr("font-weight", "bold")
    .attr("fill", "#808080").text("1.0");
info.selectAll("text.name").data(infoNames).enter().append("text")
    .attr("x", 1801).attr("y", function(d, k) { return 43 + k * 10.8; })
    .attr("fill", function(d, k) { return infoOpen[k] ? "#ff0000" : "#8c8c8c"; })
    .text(function(d) { return d; });
info.selectAll("text.time").data(infoTimes).enter().append("text")
    .attr("x", 1865).attr("y", function(d, k) { return 43 + k * 10.8; })
    .attr("fill", function(d, k) { return infoOpen[k] ? "#ff0000" : "#8c8c8c"; })
    .text(function(d) { return d; });
info.append("text").attr("x", 1865).attr("y", 43 + 6 * 10.8).attr("fill", "#8c8c8c").text("ATR (20): 19 pips");
</script>
</body>
</html>
